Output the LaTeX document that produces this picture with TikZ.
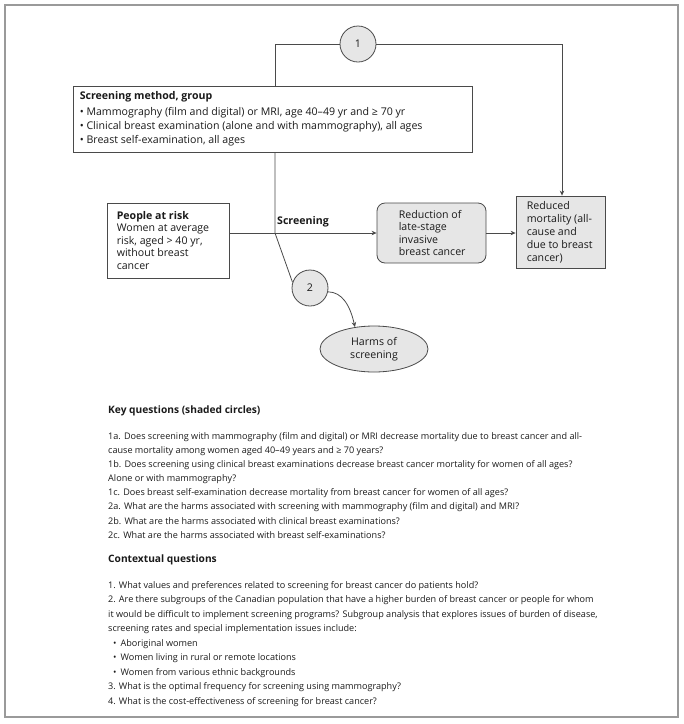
\documentclass[tikz,border=0pt]{standalone}
\usepackage{fontspec}
\setmainfont{Open Sans}
\usetikzlibrary{shapes.geometric,arrows.meta}
\definecolor{lnc}{HTML}{4A4A4A}
\definecolor{shd}{HTML}{E6E6E6}
\definecolor{frm}{HTML}{9A9A9A}
\definecolor{txc}{HTML}{1A1A1A}
\newcommand{\dsz}{\fontsize{10.6}{12.5}\selectfont}
\newcommand{\qsz}{\fontsize{9.1}{12}\selectfont}
\newcommand{\tsz}{\fontsize{10.2}{12}\selectfont}
\begin{document}
\begin{tikzpicture}[x=1pt,y=-1pt,
  every node/.style={text=txc},
  fbox/.style={draw=lnc, line width=0.8pt, inner sep=0pt},
  shbox/.style={fbox, fill=shd},
  txt/.style={inner sep=0pt, align=left, font=\dsz},
  qline/.style={inner sep=0pt, anchor=west, font=\qsz},
  conn/.style={draw=lnc, line width=0.8pt},
  arr/.style={conn, -{Stealth[length=5pt,width=4.5pt]}},
  circ/.style={circle, shbox, minimum size=36pt, font=\dsz}
]
\useasboundingbox (0,0) rectangle (684,724);
\draw[frm, line width=1.2pt] (5,5) rectangle (678,717);

% nodes
\node[circ] (c1) at (358,44) {1};
\node[fbox, fill=white, minimum width=399, minimum height=66] (sm) at (272.5,119) {};
\node[txt, anchor=west, font=\fontsize{10.6}{14}\selectfont] (smt) at ([xshift=7]sm.west)
  {\textbf{Screening method, group}\\[2pt]
   • Mammography (film and digital) or MRI, age 40–49 yr and ≥ 70 yr\\
   • Clinical breast examination (alone and with mammography), all ages\\
   • Breast self-examination, all ages};

\node[fbox, fill=white, minimum width=122, minimum height=75] (people) at (168,240.5) {};
\node[txt, anchor=west] (peoplet) at ([xshift=10]people.west)
  {\textbf{People at risk}\\Women at average\\risk, aged > 40 yr,\\without breast\\cancer};

\node[shbox, rounded corners=8pt, minimum width=109, minimum height=60] (reduc) at (431.5,233) {};
\node[txt, anchor=west] (reduct) at ([xshift=22]reduc.west)
  {Reduction of\\late-stage\\invasive\\breast cancer};

\node[shbox, minimum width=89, minimum height=72] (red) at (560.5,232) {};
\node[txt, anchor=west, font=\fontsize{10.6}{13}\selectfont] (redt) at ([xshift=11]red.west)
  {Reduced\\mortality (all-\\cause and\\due to breast\\cancer)};

\node[circ] (c2) at (310,288) {2};
\node[ellipse, shbox, minimum width=108, minimum height=46, align=center, font=\fontsize{10.6}{12.5}\selectfont] (harms) at (374,349) {Harms of\\screening};

\coordinate (sj) at ([xshift=2.5]sm.south |- reduc.west);
\node[txt, anchor=west, font=\dsz\bfseries] (scrl) at (277,222) {Screening};

% connectors
\draw[conn] (c1.west) -| ([xshift=2.5]sm.north);
\draw[arr] (c1.east) -| ([xshift=1.5]red.north);
\draw[conn] ([xshift=2.5]sm.south) -- (sj) -- (c2.162);
\draw[arr] (people.east |- sj) -- (reduc.west);
\draw[arr] (reduc.east) -- (reduc.east -| red.west);
\draw[arr] (c2.-12) .. controls (342,292) and (350,305) .. (harms.131);

% key questions
\node[qline, font=\tsz\bfseries] (kqt) at (108,411) {Key questions (shaded circles)};
\foreach \t [count=\i] in {
 {1a. Does screening with mammography (film and digital) or MRI decrease mortality due to breast cancer and all-},
 {cause mortality among women aged 40–49 years and ≥ 70 years?},
 {1b. Does screening using clinical breast examinations decrease breast cancer mortality for women of all ages?},
 {Alone or with mammography?},
 {1c. Does breast self-examination decrease mortality from breast cancer for women of all ages?},
 {2a. What are the harms associated with screening with mammography (film and digital) and MRI?},
 {2b. What are the harms associated with clinical breast examinations?},
 {2c. What are the harms associated with breast self-examinations?}}
 \node[qline] (kq\i) at (108,{437+14*(\i-1)}) {\t};

% contextual questions
\node[qline, font=\tsz\bfseries] (cqt) at (108,560) {Contextual questions};
\foreach \t [count=\i] in {
 {1. What values and preferences related to screening for breast cancer do patients hold?},
 {2. Are there subgroups of the Canadian population that have a higher burden of breast cancer or people for whom},
 {it would be difficult to implement screening programs? Subgroup analysis that explores issues of burden of disease,},
 {screening rates and special implementation issues include:},
 {\hspace*{5pt}•\hspace{4pt}Aboriginal women},
 {\hspace*{5pt}•\hspace{4pt}Women living in rural or remote locations},
 {\hspace*{5pt}•\hspace{4pt}Women from various ethnic backgrounds},
 {3. What is the optimal frequency for screening using mammography?},
 {4. What is the cost-effectiveness of screening for breast cancer?}}
 \node[qline] (cq\i) at (108,{586+14.5*(\i-1)}) {\t};
\end{tikzpicture}
\end{document}
